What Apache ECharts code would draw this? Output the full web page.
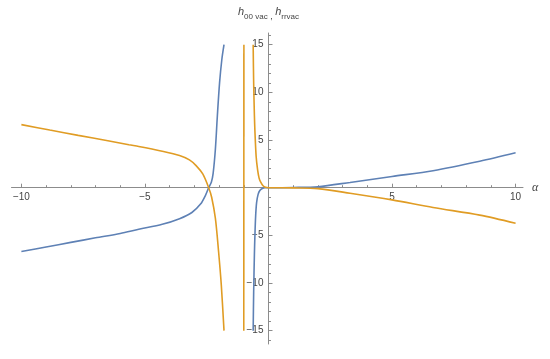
<!DOCTYPE html>
<html lang="en">
<head>
    <meta charset="UTF-8">
    <title>h00 vac, hrrvac</title>
    <script src="https://cdn.jsdelivr.net/npm/echarts@6/dist/echarts.min.js"></script>
    <style>html, body { margin: 0; padding: 0; background: #fff; }</style>
</head>
<body>
<div id="main" style="width: 550px;height: 359px"></div>
<script type="text/javascript">
    // values (alpha, h)
    var blueAlpha1 = [-10, -9, -8, -7, -6, -5.25, -4.3, -3.6, -3.1, -2.75, -2.55, -2.42, -2.31, -2.24, -2.15, -2.07, -1.98, -1.89, -1.8];
    var blueH1 = [-6.7, -6.22, -5.74, -5.26, -4.8, -4.36, -3.84, -3.25, -2.6, -1.72, -0.8, 0, 0.6, 1.5, 4.0, 7.5, 11.0, 13.4, 15];
    var blueAlpha2 = [-0.62, -0.6, -0.57, -0.55, -0.52, -0.48, -0.42, -0.35, -0.25, -0.14, 0, 1, 2, 3.3, 5, 6.66, 8.55, 10];
    var blueH2 = [-15, -11, -7, -5.1, -3.0, -1.55, -0.7, -0.3, -0.08, 0, 0, 0.02, 0.1, 0.55, 1.18, 1.78, 2.77, 3.66];

    var orangeAlpha1 = [-10, -8.85, -7.7, -6.5, -5.65, -5.25, -4.3, -3.6, -3.2, -2.93, -2.66, -2.42, -2.3, -2.15, -2.02, -1.91, -1.8];
    var orangeH1 = [6.62, 6.05, 5.49, 4.92, 4.5, 4.33, 3.83, 3.38, 2.92, 2.32, 1.44, 0, -1.0, -3.2, -6.7, -10.2, -15];
    var orangeAlpha2 = [-1.0, -0.995];
    var orangeH2 = [-15, 15];
    var orangeAlpha3 = [-0.62, -0.6, -0.57, -0.55, -0.5, -0.44, -0.38, -0.32, -0.22, -0.12, 0, 1, 2, 3.3, 5, 6.66, 8.55, 10];
    var orangeH3 = [15, 11, 7.6, 6.0, 3.3, 1.86, 1.0, 0.6, 0.2, 0.05, 0, -0.02, -0.1, -0.58, -1.28, -2.08, -2.88, -3.73];

    var xMajor = [-10, -5, 5, 10];
    var xMinor = [-9, -8, -7, -6, -4, -3, -2, -1, 1, 2, 3, 4, 6, 7, 8, 9];
    var yMajor = [-15, -10, -5, 5, 10, 15];
    var yMinor = [-16, -14, -13, -12, -11, -9, -8, -7, -6, -4, -3, -2, -1, 1, 2, 3, 4, 6, 7, 8, 9, 11, 12, 13, 14, 16];

    var blue = '#5e81b5', orange = '#e09c24', axisGray = '#8c8c8c', labelGray = '#444';

    function pairs(a, b) {
        var out = [];
        for (var i = 0; i < a.length; i++) out.push([a[i], b[i]]);
        return out;
    }
    function fmt(v) { return v < 0 ? '\u2212' + (-v) : '' + v; }

    function curve(color, data, smooth) {
        return {
            type: 'line', data: data, showSymbol: false, smooth: smooth,
            lineStyle: { color: color, width: 1.6 }, itemStyle: { color: color },
            xAxisIndex: 0, yAxisIndex: 0, silent: true
        };
    }

    var myChart = echarts.init(document.getElementById('main'));
    var xMin = -10.4, xMax = 10.3, yMin = -16.4, yMax = 16.23;
    var grid = { left: 11.5, right: 27, top: 33, bottom: 15 };
    var gw = 550 - grid.left - grid.right, gh = 359 - grid.top - grid.bottom;
    // axes cross at the origin: shift them in from the grid edges
    var offBottom = -(0 - yMin) / (yMax - yMin) * gh;
    var offTop = -(yMax - 0) / (yMax - yMin) * gh;
    var offLeft = -(0 - xMin) / (xMax - xMin) * gw;
    var offRight = -(xMax - 0) / (xMax - xMin) * gw;

    myChart.setOption({
        animation: false,
        grid: { left: grid.left, right: grid.right, top: grid.top, bottom: grid.bottom, outerBoundsMode: 'none' },
        xAxis: [{
            type: 'value', min: xMin, max: xMax, position: 'bottom', offset: offBottom,
            name: '\u03b1', nameLocation: 'end', nameGap: 9,
            nameTextStyle: { fontStyle: 'italic', fontSize: 12, color: labelGray, fontFamily: 'Liberation Serif' },
            axisLine: { onZero: false, lineStyle: { color: axisGray, width: 1 } },
            axisTick: { inside: true, length: 4, customValues: xMajor, lineStyle: { color: axisGray } },
            axisLabel: { customValues: xMajor, formatter: fmt, margin: 5, fontSize: 10, color: labelGray, fontFamily: 'Liberation Sans' },
            splitLine: { show: false }
        }, {
            // minor ticks
            type: 'value', min: xMin, max: xMax, position: 'top', offset: offTop,
            axisLine: { show: false, onZero: false },
            axisTick: { inside: false, length: 2.5, customValues: xMinor, lineStyle: { color: axisGray } },
            axisLabel: { show: false }, splitLine: { show: false }
        }],
        yAxis: [{
            type: 'value', min: yMin, max: yMax, position: 'left', offset: offLeft,
            name: '{h|h}{s|00 vac}{c| , }{h|h}{s|rrvac}', nameLocation: 'end', nameGap: 12,
            nameTextStyle: {
                rich: {
                    h: { fontSize: 11, fontStyle: 'italic', color: labelGray, fontFamily: 'Liberation Sans', lineHeight: 12, verticalAlign: 'top' },
                    s: { fontSize: 8, color: labelGray, fontFamily: 'Liberation Sans', lineHeight: 15, verticalAlign: 'bottom' },
                    c: { fontSize: 9, color: labelGray, fontFamily: 'Liberation Sans', lineHeight: 15, verticalAlign: 'bottom' }
                }
            },
            axisLine: { onZero: false, lineStyle: { color: axisGray, width: 1 } },
            axisTick: { inside: true, length: 4, customValues: yMajor, lineStyle: { color: axisGray } },
            axisLabel: { customValues: yMajor, formatter: fmt, margin: 5, fontSize: 10, color: labelGray, fontFamily: 'Liberation Sans' },
            splitLine: { show: false }
        }, {
            // minor ticks
            type: 'value', min: yMin, max: yMax, position: 'right', offset: offRight,
            axisLine: { show: false, onZero: false },
            axisTick: { inside: false, length: 2.5, customValues: yMinor, lineStyle: { color: axisGray } },
            axisLabel: { show: false }, splitLine: { show: false }
        }],
        series: [
            curve(blue, pairs(blueAlpha1, blueH1), 0.3),
            curve(blue, pairs(blueAlpha2, blueH2), 0.3),
            curve(orange, pairs(orangeAlpha1, orangeH1), 0.3),
            curve(orange, pairs(orangeAlpha2, orangeH2), false),
            curve(orange, pairs(orangeAlpha3, orangeH3), 0.3)
        ]
    });
</script>
</body>
</html>
